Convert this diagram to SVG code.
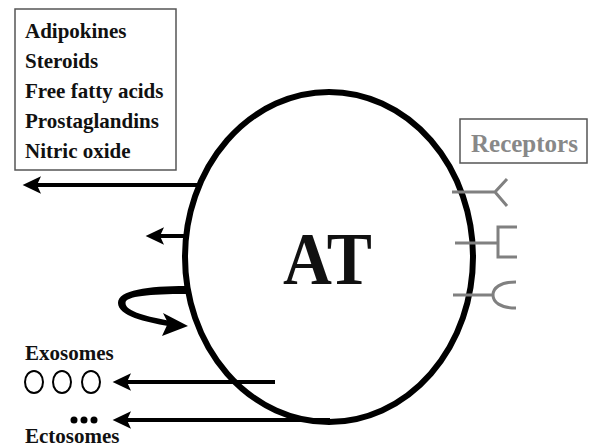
<svg xmlns="http://www.w3.org/2000/svg" width="589" height="448" viewBox="0 0 589 448">
<style>
.lbl{font-family:"Liberation Serif","Times New Roman",serif;font-weight:bold;fill:#111;}
.box{fill:#fff;stroke:#555;stroke-width:1.5;}
.arr{stroke:#000;stroke-width:4;fill:none;}
.rec{stroke:#808080;stroke-width:3;fill:none;}
</style>
<defs>
<marker id="ah" markerWidth="5" markerHeight="4.4" refX="1" refY="2.2" orient="auto" markerUnits="strokeWidth">
<polygon points="0,0 4.6,2.2 0,4.4 1,2.2" fill="#000"/>
</marker>
</defs>
<rect width="589" height="448" fill="#fff"/>
<g id="secreted">
<rect class="box" x="15" y="9" width="161" height="161"/>
<text class="lbl" font-size="21" x="25" y="38">Adipokines</text>
<text class="lbl" font-size="21" x="25" y="68">Steroids</text>
<text class="lbl" font-size="21" x="25" y="98">Free fatty acids</text>
<text class="lbl" font-size="21" x="25" y="128">Prostaglandins</text>
<text class="lbl" font-size="21" x="25" y="158">Nitric oxide</text>
</g>
<g id="AT">
<ellipse cx="329" cy="257" rx="144" ry="165" fill="none" stroke="#000" stroke-width="6"/>
<text class="lbl" font-size="74" x="283" y="284" textLength="89" lengthAdjust="spacingAndGlyphs">AT</text>
</g>
<g id="receptors">
<rect class="box" x="460" y="119" width="127" height="44" stroke="#999"/>
<text class="lbl" font-size="25" x="471" y="152" style="fill:#888">Receptors</text>
<path class="rec" d="M452 192 H495 L507 179 M495 192 L507 206"/>
<path class="rec" d="M455 243 H498 M517 227 H498 V257 H517"/>
<path class="rec" d="M453 295 H493 M516 282 C500 282 493 288 493 295 C493 302 500 308 516 308"/>
</g>
<g id="exosomes">
<text class="lbl" font-size="21" x="25" y="360">Exosomes</text>
<ellipse cx="34" cy="382" rx="9" ry="11" fill="none" stroke="#000" stroke-width="2"/>
<ellipse cx="62" cy="382" rx="9" ry="11" fill="none" stroke="#000" stroke-width="2"/>
<ellipse cx="91" cy="382" rx="9" ry="11" fill="none" stroke="#000" stroke-width="2"/>
</g>
<g id="ectosomes">
<circle cx="74" cy="420" r="3.5" fill="#000"/>
<circle cx="84" cy="420" r="3.5" fill="#000"/>
<circle cx="94" cy="420" r="3.5" fill="#000"/>
<text class="lbl" font-size="21" x="25" y="443">Ectosomes</text>
</g>
<g id="connectors">
<line class="arr" x1="199" y1="185" x2="37" y2="185" marker-end="url(#ah)"/>
<line class="arr" x1="184" y1="236" x2="160" y2="236" marker-end="url(#ah)"/>
<line class="arr" x1="275" y1="382" x2="127" y2="382" marker-end="url(#ah)"/>
<line class="arr" x1="330" y1="420" x2="127" y2="420" marker-end="url(#ah)"/>
<path d="M186 286 C148 286 118 290 118 303 C118 316 146 322 168 326 L168 320.5 C150 317 125.5 312 125.5 303 C125.5 296 150 294 186 294 Z" fill="#000"/>
<polygon points="188,326 163,313 168,323 162,336" fill="#000"/>
</g>
</svg>
